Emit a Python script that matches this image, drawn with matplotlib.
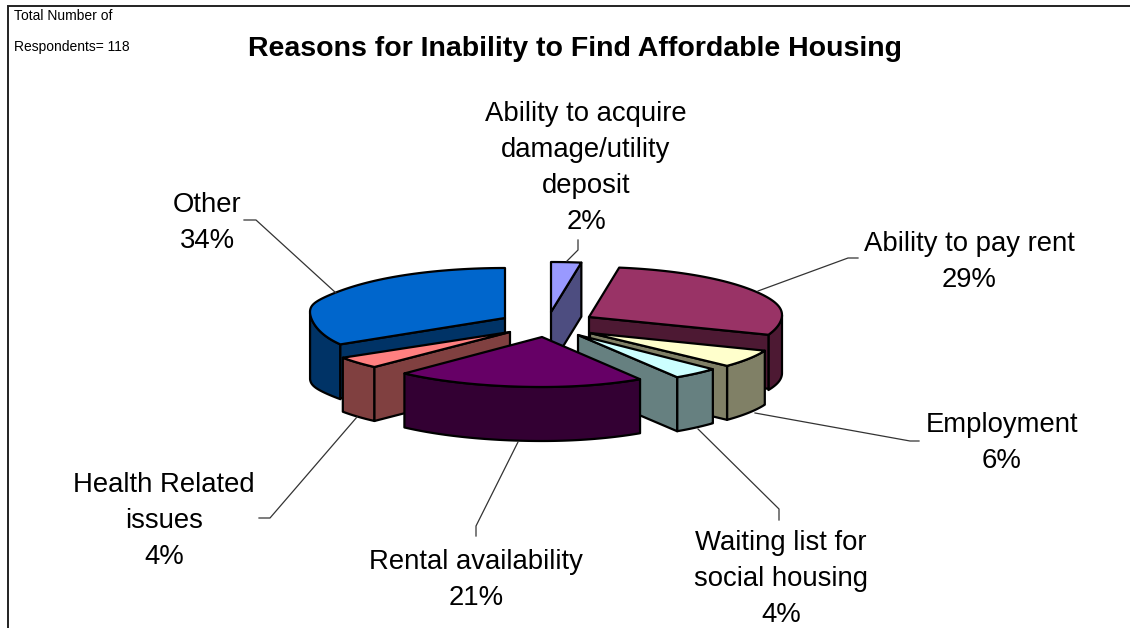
#!/usr/bin/env python3
# Exploded 3D style pie, drawn by hand since matplotlib has no such pie
import numpy as np
import matplotlib
matplotlib.use('Agg')
import matplotlib.pyplot as plt

categories = ['Ability to acquire\ndamage/utility\ndeposit', 'Ability to pay rent', 'Employment',
              'Waiting list for\nsocial housing', 'Rental availability',
              'Health Related\nissues', 'Other']
percents = [2, 29, 6, 4, 21, 4, 34]

top_colors = ['#9999FF', '#993366', '#FFFFCC', '#CCFFFF', '#660066', '#FF8080', '#0066CC']
side_colors = ['#4D4D80', '#4D1933', '#808066', '#668080', '#330033', '#804040', '#003366']

# apex x, apex y, radius to the right, radius to the left, vertical radius, swell at the side
slice_geom = [
    (551, 312, 194, 194, 50, 0),
    (589, 317, 193, 193, 50, 2),
    (590, 333, 188, 188, 48, 0),
    (578, 335, 185, 185, 50, 0),
    (542, 337, 183, 201, 50, 0),
    (510, 332, 198, 198, 48, 0),
    (505, 318, 195, 195, 50, 6),
]
depth = 54
# back to front
draw_order = [0, 1, 2, 3, 6, 5, 4]

# label centre x, top y of the text block
label_pos = [(586, 101), (969, 231), (1002, 412), (781, 530), (476, 549), (164, 472), (207, 192)]
leaders = [
    [(567, 261), (578, 250), (578, 240)],
    [(758, 291), (848, 258), (858, 258)],
    [(755, 413), (910, 441), (919, 441)],
    [(698, 429), (779, 509), (779, 520)],
    [(518, 442), (476, 526), (476, 536)],
    [(357, 417), (270, 518), (259, 518)],
    [(336, 293), (256, 220), (244, 220)],
]

plt.rcParams['font.family'] = ['Liberation Sans', 'DejaVu Sans']

fig = plt.figure(figsize=(11.3, 6.28), dpi=100, facecolor='w')
ax = fig.add_axes([0, 0, 1, 1])
ax.set_xlim(0, 1130)
ax.set_ylim(628, 0)
ax.axis('off')

# chart frame, cut off at the right and bottom
ax.plot([8, 8, 1130], [628, 6, 6], color='#222222', lw=1.4, solid_joinstyle='miter')


def rim(geom, deg):
    x0, y0, rr, rl, ry, swell = geom
    # far edge of the ellipse is a little wider than a plain projection
    t = np.radians(np.interp(deg, [0, 7.2, 40, 360], [0, 9, 40, 360]))
    s = np.sin(t)
    lift = swell * s ** 16
    return x0 + np.where(s > 0, rr, rl) * s, y0 - ry * np.cos(t) - lift, lift


def draw_slice(i, a, b):
    geom = slice_geom[i]
    x0, y0 = geom[:2]
    deg = np.linspace(a, b, 80)
    xs, ys, lift = rim(geom, deg)
    kw = dict(edgecolor='black', lw=1.6, joinstyle='round')
    # outer wall, only the part of the rim that faces the viewer
    k = (deg >= 90) & (deg <= 270)
    if k.any():
        ax.fill(np.r_[xs[k], xs[k][::-1]], np.r_[ys[k], (ys + 2 * lift)[k][::-1] + depth],
                facecolor=side_colors[i], **kw)
    # cut faces, the end angle shows on the right half, the start angle on the left
    if b <= 180:
        ax.fill([xs[-1], x0, x0, xs[-1]], [ys[-1], y0, y0 + depth, ys[-1] + depth],
                facecolor=side_colors[i], **kw)
    if a >= 180:
        ax.fill([xs[0], x0, x0, xs[0]], [ys[0], y0, y0 + depth, ys[0] + depth],
                facecolor=side_colors[i], **kw)
    ax.fill(np.r_[x0, xs], np.r_[y0, ys], facecolor=top_colors[i], **kw)


edges = np.cumsum([0] + percents) / sum(percents) * 360
for i in draw_order:
    draw_slice(i, edges[i], edges[i + 1])

for pts in leaders:
    p = np.array(pts)
    ax.plot(p[:, 0], p[:, 1], color='#333333', lw=0.9, zorder=1)

for name, pct, (lx, ly) in zip(categories, percents, label_pos):
    ax.text(lx, ly, f'{name}\n{pct}%', ha='center', va='top', fontsize=19.8, color='black',
            linespacing=1.5)

ax.text(575, 48.5, 'Reasons for Inability to Find Affordable Housing', ha='center', va='center',
        fontsize=20.5, fontweight='bold', color='black')
ax.text(14, 16, 'Total Number of', ha='left', va='center', fontsize=10, color='black')
ax.text(14, 47, 'Respondents= 118', ha='left', va='center', fontsize=10, color='black')

fig.savefig('out.png', dpi=100)
